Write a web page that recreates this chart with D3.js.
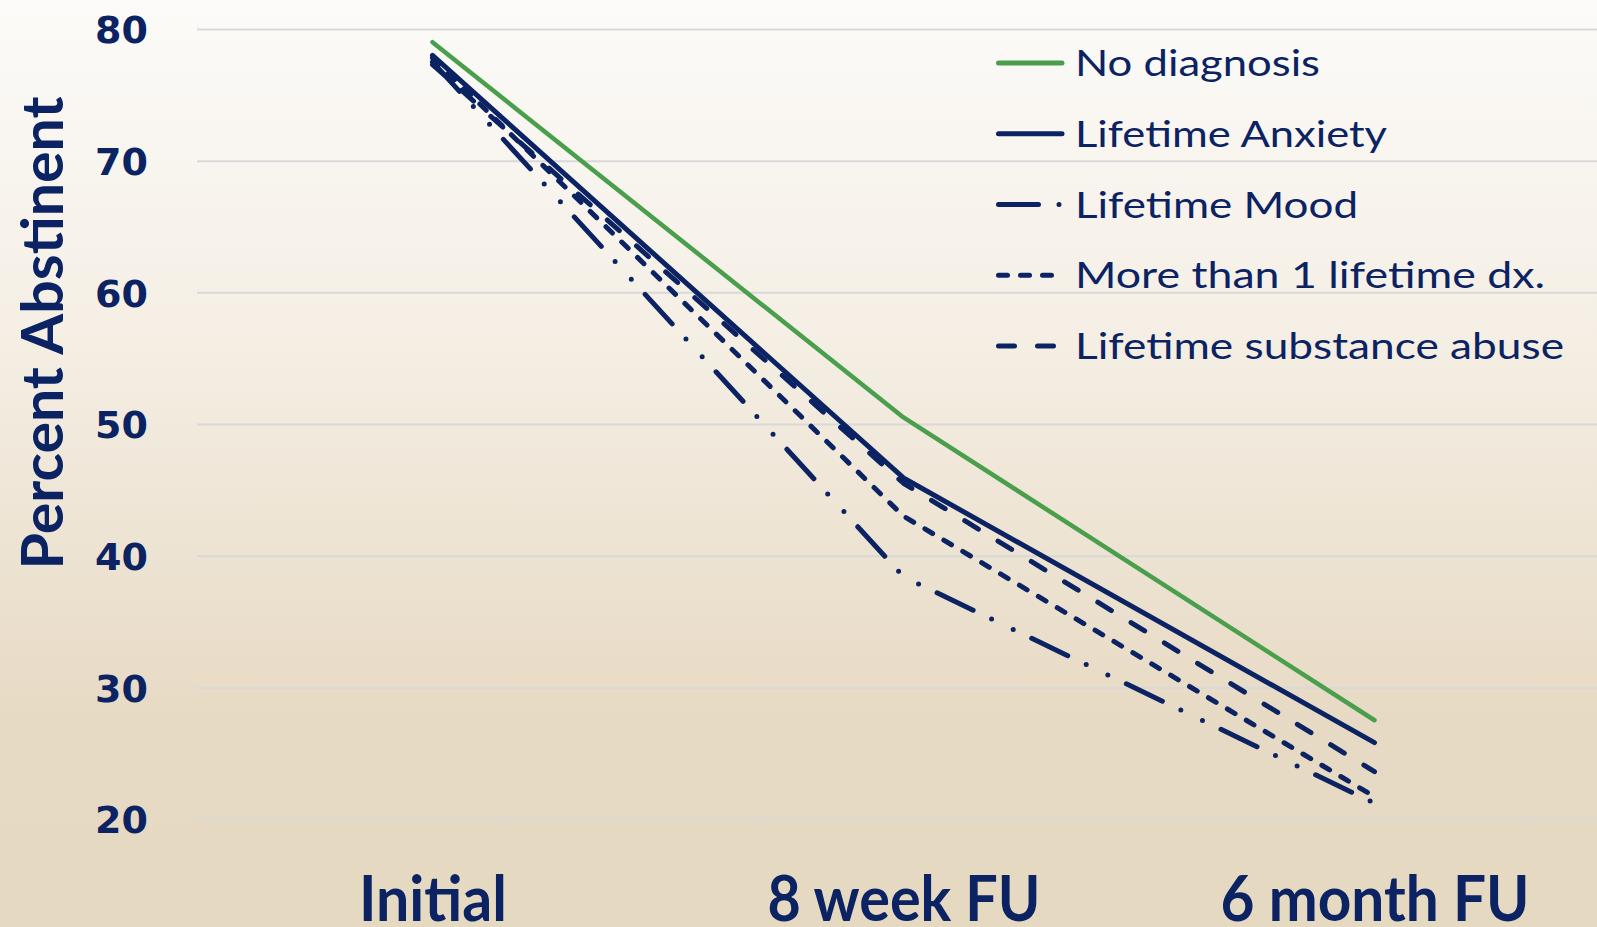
<!DOCTYPE html>
<html>
<head>
<meta charset="utf-8">
<script src="https://cdn.jsdelivr.net/npm/d3@7"></script>
<style>
  html, body { margin: 0; padding: 0; background: #ffffff; }
  svg { display: block; }
</style>
</head>
<body>
<svg id="chart" width="1597" height="927"></svg>
<script>
// Time points and tick values
const categories = ["Initial", "8 week FU", "6 month FU"];
const yTicks = [20, 30, 40, 50, 60, 70, 80];

// Percent abstinent for each group at each time point
const noDiagnosis      = [79.0, 50.5, 27.5];
const lifetimeAnxiety  = [78.0, 45.9, 25.8];
const lifetimeMood     = [77.5, 38.4, 21.2];
const moreThanOne      = [77.8, 43.0, 21.7];
const substanceAbuse   = [77.3, 45.5, 23.6];

const seriesNames = [
  "No diagnosis",
  "Lifetime Anxiety",
  "Lifetime Mood",
  "More than 1 lifetime dx.",
  "Lifetime substance abuse"
];

const navy = "#0b2363";
const green = "#4a9f4c";
const lineStyles = [
  { color: green, dash: null },
  { color: navy,  dash: null },
  { color: navy,  dash: "40,20.5,0,24,0,20.5" },
  { color: navy,  dash: "9,13" },
  { color: navy,  dash: "16,23" }
];
const seriesValues = [noDiagnosis, lifetimeAnxiety, lifetimeMood, moreThanOne, substanceAbuse];
const series = seriesNames.map((name, i) => ({ name, values: seriesValues[i], style: lineStyles[i] }));

const W = 1597, H = 927;
const svg = d3.select("#chart");

// Background: light at the top fading into beige
const defs = svg.append("defs");
const grad = defs.append("linearGradient")
  .attr("id", "bg").attr("x1", 0).attr("y1", 0).attr("x2", 0).attr("y2", 1);
grad.append("stop").attr("offset", 0).attr("stop-color", "#fcfbf9");
grad.append("stop").attr("offset", 0.35).attr("stop-color", "#f5efe5");
grad.append("stop").attr("offset", 0.78).attr("stop-color", "#e7dac4");
grad.append("stop").attr("offset", 1).attr("stop-color", "#e6d9c2");
svg.append("rect").attr("width", W).attr("height", H).attr("fill", "url(#bg)");

const x = d3.scalePoint().domain(categories).range([197, 1610]).padding(0.5);
const y = d3.scaleLinear().domain([20, 80]).range([819, 29]);

// Y axis with gridlines across the plot
const yAxis = svg.append("g")
  .attr("transform", "translate(197,0)")
  .call(d3.axisLeft(y).tickValues(yTicks).tickSize(-(W - 197)).tickPadding(49).tickFormat(d3.format("d")));
yAxis.select(".domain").remove();
yAxis.selectAll(".tick line").attr("stroke", "#d9d9d9").attr("stroke-width", 2);
yAxis.selectAll(".tick text")
  .attr("fill", navy)
  .attr("font-family", "'DejaVu Sans', Verdana, sans-serif")
  .attr("font-weight", "bold")
  .attr("font-size", 38)
  .attr("dy", "0.36em");

// X axis labels
const xAxis = svg.append("g")
  .attr("transform", "translate(0,819)")
  .call(d3.axisBottom(x).tickSize(0).tickPadding(0));
xAxis.select(".domain").remove();
const xWidths = { "Initial": 148, "8 week FU": 273, "6 month FU": 309 };
xAxis.selectAll(".tick text")
  .attr("fill", navy)
  .attr("font-family", "Lato, 'Open Sans', sans-serif")
  .attr("font-weight", "bold")
  .attr("font-size", 63)
  .attr("y", 102)
  .attr("dy", 0)
  .attr("textLength", d => xWidths[d])
  .attr("lengthAdjust", "spacingAndGlyphs");

// Y axis title
svg.append("text")
  .attr("transform", "translate(63,333) rotate(-90)")
  .attr("text-anchor", "middle")
  .attr("fill", navy)
  .attr("font-family", "Lato, 'Open Sans', sans-serif")
  .attr("font-weight", "bold")
  .attr("font-size", 58)
  .attr("textLength", 473)
  .attr("lengthAdjust", "spacingAndGlyphs")
  .text("Percent Abstinent");

// Lines, drawn bottom-up so the green line sits on top
const line = d3.line()
  .x((d, i) => x(categories[i]))
  .y(d => y(d));

svg.append("g").selectAll("path")
  .data(series.slice().reverse())
  .join("path")
  .attr("d", d => line(d.values))
  .attr("fill", "none")
  .attr("stroke", d => d.style.color)
  .attr("stroke-width", d => d.style.color === green ? 4.5 : 5)
  .attr("stroke-linecap", "round")
  .attr("stroke-linejoin", "round")
  .attr("stroke-dasharray", d => d.style.dash);

// Legend
const legendWidths = [245, 312, 283, 470, 489];
const legend = svg.append("g");
const rows = legend.selectAll("g")
  .data(series)
  .join("g")
  .attr("transform", (d, i) => `translate(0,${63 + i * 70.75})`);
rows.append("line")
  .attr("x1", 998.5).attr("x2", 1062)
  .attr("y1", 0).attr("y2", 0)
  .attr("stroke", d => d.style.color)
  .attr("stroke-width", 5)
  .attr("stroke-linecap", "round")
  .attr("stroke-dasharray", d => d.style.dash);
rows.append("text")
  .attr("x", 1075)
  .attr("y", 13)
  .attr("fill", navy)
  .attr("font-family", "Lato, 'Open Sans', sans-serif")
  .attr("font-size", 37)
  .attr("textLength", (d, i) => legendWidths[i])
  .attr("lengthAdjust", "spacingAndGlyphs")
  .text(d => d.name);
</script>
</body>
</html>
